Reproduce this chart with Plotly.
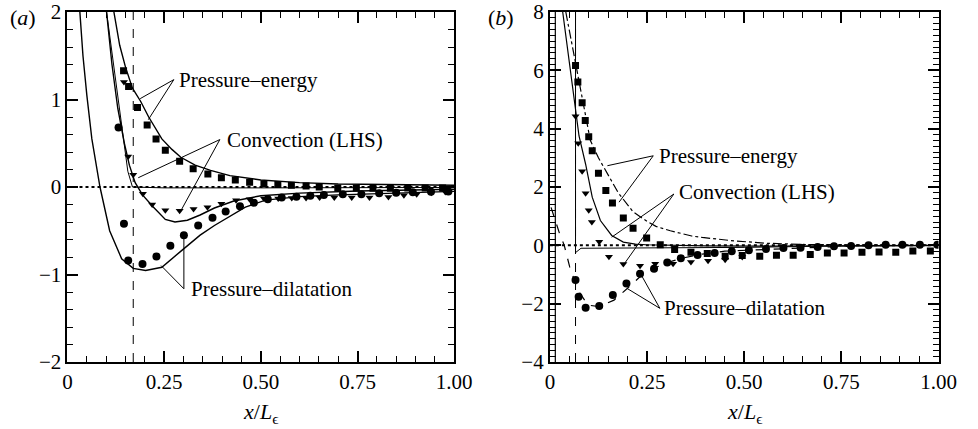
import plotly.graph_objects as go

# ---------------- Panel (a) data ----------------
pe_a_line_x = [0.12, 0.135, 0.15, 0.168, 0.189, 0.21, 0.244, 0.27, 0.293, 0.33, 0.37, 0.42, 0.5, 0.6, 0.7, 0.8, 0.9, 1.0]
pe_a_line_y = [2.0, 1.62, 1.37, 1.13, 0.98, 0.8, 0.55, 0.43, 0.34, 0.25, 0.19, 0.13, 0.08, 0.05, 0.035, 0.028, 0.022, 0.02]

cv_a_line_x = [0.101, 0.115, 0.13, 0.147, 0.16, 0.175, 0.194, 0.22, 0.253, 0.278, 0.31, 0.343, 0.38, 0.43, 0.5, 0.6, 0.75, 0.9, 1.0]
cv_a_line_y = [2.0, 1.4, 0.9, 0.5, 0.25, 0.05, -0.09, -0.22, -0.37, -0.4, -0.38, -0.32, -0.24, -0.16, -0.1, -0.07, -0.045, -0.033, -0.026]

pd_a_line_x = [0.032, 0.04, 0.05, 0.063, 0.084, 0.109, 0.14, 0.17, 0.202, 0.244, 0.295, 0.343, 0.38, 0.42, 0.46, 0.512, 0.6, 0.7, 0.8, 0.9, 1.0]
pd_a_line_y = [2.0, 1.5, 1.05, 0.55, 0.0, -0.5, -0.82, -0.93, -0.955, -0.917, -0.727, -0.55, -0.44, -0.33, -0.23, -0.15, -0.11, -0.09, -0.075, -0.06, -0.05]

kink_a_x = [0.101, 0.147, 0.156, 0.168, 0.25, 0.5, 1.0]
kink_a_y = [2.0, 0.52, 0.18, 0.0, -0.01, -0.01, -0.005]

sq_a_x = [0.145, 0.158, 0.181, 0.206, 0.229, 0.253, 0.29, 0.325, 0.363, 0.398, 0.434, 0.471, 0.508, 0.544,
          0.579, 0.617, 0.651, 0.699, 0.747, 0.79, 0.835, 0.88, 0.925, 0.97]
sq_a_y = [1.33, 1.15, 0.91, 0.71, 0.55, 0.42, 0.295, 0.21, 0.15, 0.106, 0.08, 0.055, 0.038, 0.03,
          0.019, 0.011, 0.0, -0.012, -0.015, -0.015, -0.015, -0.012, -0.01, -0.01]

tri_a_x = [0.146, 0.157, 0.17, 0.195, 0.219, 0.253, 0.29, 0.326, 0.362, 0.398, 0.436, 0.471, 0.508, 0.545,
           0.58, 0.617, 0.652, 0.69, 0.735, 0.781, 0.83, 0.87, 0.903, 0.941, 0.977]
tri_a_y = [1.2, 0.35, 0.14, -0.076, -0.2, -0.265, -0.27, -0.25, -0.23, -0.19, -0.15, -0.14, -0.13, -0.13,
           -0.125, -0.125, -0.12, -0.12, -0.12, -0.12, -0.114, -0.095, -0.083, -0.065, -0.057]

cir_a_x = [0.132, 0.146, 0.157, 0.194, 0.23, 0.266, 0.301, 0.338, 0.375, 0.409, 0.446, 0.482, 0.518, 0.554,
           0.592, 0.628, 0.663, 0.712, 0.76, 0.806, 0.85, 0.893, 0.94, 0.985]
cir_a_y = [0.68, -0.42, -0.84, -0.88, -0.795, -0.67, -0.55, -0.44, -0.35, -0.28, -0.22, -0.18, -0.14, -0.12,
           -0.11, -0.10, -0.09, -0.083, -0.083, -0.072, -0.065, -0.06, -0.055, -0.05]

vline_a = 0.17

# ---------------- Panel (b) data ----------------
pe_b_line_x = [0.041, 0.066, 0.083, 0.104, 0.125, 0.15, 0.176, 0.214, 0.25, 0.273, 0.31, 0.365, 0.392, 0.476, 0.56, 0.65, 0.8, 1.0]
pe_b_line_y = [8.0, 6.25, 5.05, 3.6, 3.0, 2.4, 1.8, 1.15, 0.82, 0.65, 0.5, 0.32, 0.27, 0.15, 0.07, 0.03, 0.01, 0.0]

cv_b_line_x = [0.033, 0.05, 0.075, 0.092, 0.109, 0.13, 0.159, 0.189, 0.22, 0.247, 0.3, 0.4, 0.55, 0.7, 1.0]
cv_b_line_y = [8.0, 6.2, 3.75, 2.78, 1.65, 0.85, 0.34, 0.11, 0.04, 0.02, 0.0, -0.02, -0.03, -0.02, 0.0]

pd_b_line_x = [0.003, 0.015, 0.025, 0.037, 0.051, 0.072, 0.098, 0.127, 0.165, 0.199, 0.232, 0.266, 0.3, 0.337,
               0.392, 0.45, 0.56, 0.65, 0.729, 0.8, 0.9, 1.0]
pd_b_line_y = [1.3, 0.8, 0.4, 0.0, -0.74, -1.53, -2.05, -2.1, -1.88, -1.48, -1.08, -0.8, -0.6, -0.45,
               -0.3, -0.2, -0.13, -0.09, -0.05, -0.02, 0.01, 0.02]

kink_b_x = [0.066, 0.066, 0.08, 0.3, 0.5, 0.7, 1.0]
kink_b_y = [8.0, -0.25, -0.1, -0.09, -0.07, -0.03, -0.01]

wall_b_x = [0.014, 0.014]
wall_b_y = [8.0, -4.0]

sq_b_x = [0.066, 0.072, 0.083, 0.091, 0.1, 0.109, 0.125, 0.144, 0.161, 0.189, 0.214, 0.249, 0.284, 0.321, 0.363,
          0.405, 0.451, 0.495, 0.54, 0.583, 0.626, 0.67, 0.714, 0.757, 0.803, 0.847, 0.89, 0.934, 0.979]
sq_b_y = [6.17, 5.6, 4.89, 4.28, 3.72, 3.24, 2.47, 1.88, 1.45, 0.94, 0.59, 0.25, 0.02, -0.14, -0.24,
          -0.28, -0.37, -0.35, -0.37, -0.34, -0.34, -0.31, -0.26, -0.26, -0.24, -0.23, -0.24, -0.19, -0.19]

tri_b_x = [0.066, 0.073, 0.083, 0.092, 0.1, 0.108, 0.127, 0.152, 0.189, 0.232, 0.271, 0.317, 0.363, 0.407, 0.451, 0.495]
tri_b_y = [4.43, 3.5, 2.54, 1.79, 1.2, 0.8, 0.12, -0.39, -0.64, -0.7, -0.63, -0.63, -0.57, -0.53, -0.49, -0.4]

cir_b_x = [0.066, 0.074, 0.092, 0.127, 0.162, 0.197, 0.232, 0.268, 0.302, 0.337, 0.38, 0.424, 0.468, 0.512,
           0.556, 0.601, 0.645, 0.689, 0.731, 0.775, 0.82, 0.864, 0.907, 0.952, 0.997]
cir_b_y = [-1.19, -1.76, -2.14, -2.08, -1.7, -1.31, -0.97, -0.8, -0.59, -0.44, -0.33, -0.26, -0.2, -0.17,
           -0.125, -0.09, -0.08, -0.06, -0.034, -0.02, 0.0, 0.02, 0.02, 0.02, 0.02]

vline_b = 0.066

x_tickvals = [0, 0.25, 0.5, 0.75, 1.0]
x_ticktext = ["0", "0.25", "0.50", "0.75", "1.00"]

FONT = "Liberation Serif, Times New Roman, DejaVu Serif, serif"
BLK = "black"
FS = 21

fig = go.Figure()


def line(x, y, xa, ya, dash="solid", width=1.4):
    fig.add_trace(go.Scatter(x=x, y=y, mode="lines", xaxis=xa, yaxis=ya,
                             line=dict(color=BLK, width=width, dash=dash),
                             hoverinfo="skip", showlegend=False))


def markers(x, y, xa, ya, symbol, size):
    fig.add_trace(go.Scatter(x=x, y=y, mode="markers", xaxis=xa, yaxis=ya,
                             marker=dict(color=BLK, symbol=symbol, size=size, line=dict(width=0)),
                             hoverinfo="skip", showlegend=False, cliponaxis=True))


# Panel (a)
line([0, 1], [0, 0], "x", "y", dash="dot", width=2)
line([vline_a, vline_a], [-2, 2], "x", "y", dash="dash", width=1)
line(pe_a_line_x, pe_a_line_y, "x", "y")
line(cv_a_line_x, cv_a_line_y, "x", "y")
line(pd_a_line_x, pd_a_line_y, "x", "y")
line(kink_a_x, kink_a_y, "x", "y", width=1)
markers(sq_a_x, sq_a_y, "x", "y", "square", 7)
markers(tri_a_x, tri_a_y, "x", "y", "triangle-down", 7)
markers(cir_a_x, cir_a_y, "x", "y", "circle", 8)

# Panel (b)
line([0, 1], [0, 0], "x2", "y2", dash="dot", width=2)
line([vline_b, vline_b], [-4, 8], "x2", "y2", dash="dash", width=1)
line(wall_b_x, wall_b_y, "x2", "y2", width=1.2)
line(pe_b_line_x, pe_b_line_y, "x2", "y2", dash="dashdot", width=1.2)
line(cv_b_line_x, cv_b_line_y, "x2", "y2", width=1.2)
line(pd_b_line_x, pd_b_line_y, "x2", "y2", dash="dash", width=1.2)
line(kink_b_x, kink_b_y, "x2", "y2", width=1)
markers(sq_b_x, sq_b_y, "x2", "y2", "square", 7)
markers(tri_b_x, tri_b_y, "x2", "y2", "triangle-down", 7)
markers(cir_b_x, cir_b_y, "x2", "y2", "circle", 8)

W, H = 978, 429
axis_common = dict(showline=True, linecolor=BLK, linewidth=2, mirror="allticks",
                   ticks="inside", tickcolor=BLK, tickwidth=1.5, ticklen=11,
                   showgrid=False, zeroline=False, ticklabeloverflow="allow",
                   tickfont=dict(family=FONT, size=FS, color=BLK))

xa = dict(axis_common, range=[0, 1], tickmode="array", tickvals=x_tickvals, ticktext=x_ticktext,
          minor=dict(dtick=0.05, tick0=0, ticks="inside", ticklen=6, tickwidth=1.2, tickcolor=BLK, showgrid=False))

fig.update_layout(
    width=W, height=H,
    margin=dict(l=0, r=0, t=10, b=67),
    paper_bgcolor="white", plot_bgcolor="white",
    font=dict(family=FONT, size=FS, color=BLK),
    xaxis=dict(xa, domain=[64 / W, 460 / W], anchor="y"),
    yaxis=dict(axis_common, range=[-2, 2], dtick=1, tick0=0, anchor="x",
               minor=dict(dtick=0.2, tick0=0, ticks="inside", ticklen=6, tickwidth=1.2, tickcolor=BLK, showgrid=False)),
    xaxis2=dict(xa, domain=[558 / W, 956 / W], anchor="y2"),
    yaxis2=dict(axis_common, range=[-4, 8], dtick=2, tick0=0, anchor="x2",
                minor=dict(dtick=0.2, tick0=0, ticks="inside", ticklen=6, tickwidth=1.2, tickcolor=BLK, showgrid=False)),
)

# Labels and leader lines
labels = [
    ("x", "y", 0.282, 1.227, "Pressure–energy", (0.275, 1.227), [(0.188, 1.01), (0.209, 0.77)]),
    ("x", "y", 0.407, 0.542, "Convection (LHS)", (0.394, 0.542), [(0.183, 0.106), (0.293, -0.273)]),
    ("x", "y", 0.313, -1.16, "Pressure–dilatation", (0.301, -1.163), [(0.242, -0.898), (0.301, -0.557)]),
    ("x2", "y2", 0.275, 3.07, "Pressure–energy", (0.266, 3.07), [(0.148, 2.73), (0.178, 1.48)]),
    ("x2", "y2", 0.326, 1.82, "Convection (LHS)", (0.319, 1.76), [(0.159, 0.28), (0.189, -0.68)]),
    ("x2", "y2", 0.288, -2.15, "Pressure–dilatation", (0.283, -2.16), [(0.199, -1.48), (0.234, -0.99)]),
]
for xr, yr, tx, ty, txt, st, ends in labels:
    fig.add_annotation(x=tx, y=ty, xref=xr, yref=yr, text=txt, showarrow=False,
                       xanchor="left", yanchor="middle", font=dict(family=FONT, size=FS, color=BLK))
    for ex, ey in ends:
        fig.add_shape(type="line", xref=xr, yref=yr, x0=st[0], y0=st[1], x1=ex, y1=ey,
                      line=dict(color=BLK, width=1))

# axis titles
for cx in [262 / W, 757 / W]:
    fig.add_annotation(x=cx, y=(362 - 413) / 352, xref="paper", yref="paper",
                       text="<i>x</i>/<i>L</i><sub>ϵ</sub>", showarrow=False,
                       xanchor="center", yanchor="middle", font=dict(family=FONT, size=22, color=BLK))

# panel labels
fig.add_annotation(x=3 / W, y=(362 - 16) / 352, xref="paper", yref="paper", text="(<i>a</i>)",
                   showarrow=False, xanchor="left", yanchor="middle", font=dict(family=FONT, size=22, color=BLK))
fig.add_annotation(x=493 / W, y=(362 - 16) / 352, xref="paper", yref="paper", text="(<i>b</i>)",
                   showarrow=False, xanchor="left", yanchor="middle", font=dict(family=FONT, size=22, color=BLK))

fig.write_html("out.html")
